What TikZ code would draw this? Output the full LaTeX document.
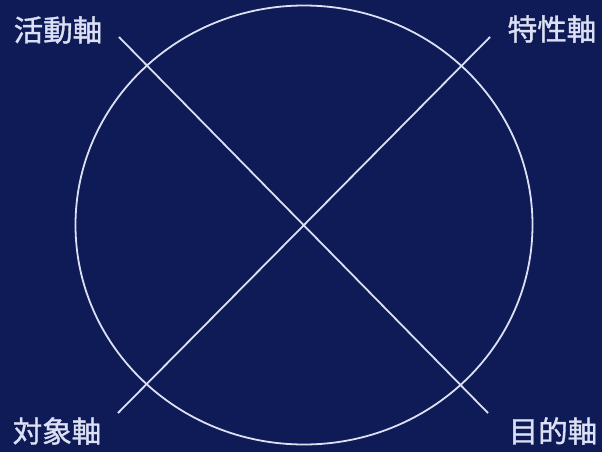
\documentclass[tikz,border=0pt]{standalone}
\usepackage{fontspec}
\usetikzlibrary{shapes.geometric}
\newfontfamily\cjk[BoldFont={Noto Sans CJK JP},BoldFeatures={FakeBold=1.2}]{Noto Sans CJK JP}
\definecolor{bg}{RGB}{15,27,86}
\definecolor{ln}{RGB}{220,224,244}
\begin{document}
\begin{tikzpicture}[x=1pt,y=-1pt,
  axis/.style={draw=ln,line width=1.8pt},
  lab/.style={text=ln,font=\cjk\bfseries\fontsize{29.5}{29.5}\selectfont,inner sep=0pt}]
\fill[bg] (0,0) rectangle (602,452);
\useasboundingbox (0,0) rectangle (602,452);
\node[axis,ellipse,minimum width=457pt,minimum height=439pt,inner sep=0pt] (c) at (304,225) {};
\coordinate (tl) at (119,37);
\coordinate (br) at (488,413);
\coordinate (bl) at (118,413);
\coordinate (tr) at (490,37);
\draw[axis] (tl) -- (br);
\draw[axis] (bl) -- (tr);
\node[lab] (a) at (58,30) {活動軸};
\node[lab] (b) at (552,29) {特性軸};
\node[lab] (d) at (57,431) {対象軸};
\node[lab] (e) at (553,431) {目的軸};
\end{tikzpicture}
\end{document}
